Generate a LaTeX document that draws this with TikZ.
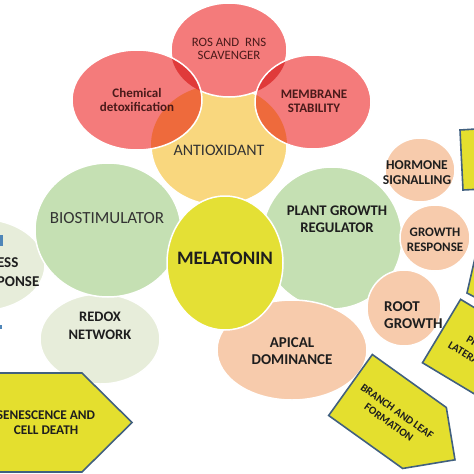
\documentclass[tikz,border=0pt]{standalone}
\usepackage{fontspec}
\setmainfont{Carlito}
\definecolor{redE}{HTML}{F47B7B}
\definecolor{redD}{HTML}{E03A3A}
\definecolor{orgL}{HTML}{EE6A3C}
\definecolor{antiY}{HTML}{F9D77E}
\definecolor{grnL}{HTML}{C5E0B3}
\definecolor{melY}{HTML}{E4E035}
\definecolor{peach}{HTML}{F7CBAC}
\definecolor{redoxC}{HTML}{E7EDDA}
\definecolor{arrY}{HTML}{E4DF2E}
\definecolor{arrB}{HTML}{41607F}
\definecolor{txtc}{HTML}{1E1E1E}
\definecolor{txtr}{HTML}{4A1A1A}
\definecolor{txtg}{HTML}{333333}
\definecolor{blueM}{HTML}{4F86B8}
\begin{document}
\begin{tikzpicture}[x=1pt,y=-1pt,
  bub/.style={draw=white, line width=1.5pt},
  tx/.style={align=center, text=txtc, inner sep=0pt, font=\bfseries},
  arrowbox/.style={fill=arrY, draw=arrB, line width=1.6pt, line join=miter}]
\useasboundingbox (0,0) rectangle (474,474);
\begin{scope}
\clip (0,0) rectangle (474,474);
% left side
\path[bub, fill=redoxC] (-20,265) ellipse [x radius=65pt, y radius=46pt];
\fill[blueM] (-2,235) rectangle (3,246);
\fill[blueM] (-2,325) rectangle (2,329);
\path[bub, fill=redoxC] (100,339) ellipse [x radius=60pt, y radius=45pt];
\path[bub, fill=grnL] (108,230) ellipse [x radius=73pt, y radius=67pt];
% antioxidant cluster
\path[bub, fill=antiY] (219,145) ellipse [x radius=68pt, y radius=60pt];
\path[bub, fill=redE] (229,50) ellipse [x radius=58pt, y radius=47pt];
\fill[redE] (137,100) ellipse [x radius=65pt, y radius=50pt];
\begin{scope}
\clip (137,100) ellipse [x radius=65pt, y radius=50pt];
\fill[orgL] (219,145) ellipse [x radius=68pt, y radius=60pt];
\fill[redD] (229,50) ellipse [x radius=58pt, y radius=47pt];
\end{scope}
\draw[white, line width=1.5pt] (137,100) ellipse [x radius=65pt, y radius=50pt];
\fill[redE] (313,102) ellipse [x radius=58pt, y radius=47pt];
\begin{scope}
\clip (313,102) ellipse [x radius=58pt, y radius=47pt];
\fill[orgL] (219,145) ellipse [x radius=68pt, y radius=60pt];
\fill[redD] (229,50) ellipse [x radius=58pt, y radius=47pt];
\end{scope}
\draw[white, line width=1.5pt] (313,102) ellipse [x radius=58pt, y radius=47pt];
% right cluster
\path[bub, fill=grnL] (332,238) ellipse [x radius=70pt, y radius=71pt];
\path[bub, fill=peach] (420,170) ellipse [x radius=35pt, y radius=32pt];
\path[bub, fill=peach] (435,238) ellipse [x radius=35pt, y radius=33pt];
\path[bub, fill=peach] (404,308) ellipse [x radius=37pt, y radius=38pt];
\path[bub, fill=peach] (292,350) ellipse [x radius=75pt, y radius=50pt];
\path[bub, fill=melY] (225,263) ellipse [x radius=58pt, y radius=67pt];
% arrows
\draw[arrowbox] (-60,373) -- (82,373) -- (132,422.5) -- (82,472) -- (-60,472) -- cycle;
\begin{scope}[shift={(387.5,411.5)}, rotate=-35.6]
\draw[arrowbox] (-45.5,-37.5) -- (45.5,-37.5) -- (83,0) -- (45.5,37.5) -- (-45.5,37.5) -- cycle;
\end{scope}
\begin{scope}[shift={(484.4,356.8)}, rotate=-31]
\draw[arrowbox] (-50,-37) -- (50,-37) -- (87,0) -- (50,37) -- (-50,37) -- cycle;
\end{scope}
\draw[arrowbox] (460,130) -- (540,125) -- (544,186) -- (463,190) -- cycle;
\draw[arrowbox] (480,236) -- (467,293) -- (482,301) -- cycle;
% texts
\node[tx, font=\fontsize{12.8}{13}\selectfont, text=txtr] (ros) at (229,48.5) {ROS AND\ \ RNS\\SCAVENGER};
\node[tx, font=\bfseries\fontsize{13}{14}\selectfont, text=txtr] (chem) at (137,100) {Chemical\\detoxification};
\node[tx, font=\bfseries\fontsize{13}{13.5}\selectfont, text=txtr] (memb) at (314,101.5) {MEMBRANE\\STABILITY};
\node[tx, font=\fontsize{16}{16}\selectfont, text=txtg] (anti) at (219,150) {ANTIOXIDANT};
\node[tx, font=\fontsize{17}{17}\selectfont, text=txtg] (bio) at (107,218) {BIOSTIMULATOR};
\node[tx, font=\bfseries\fontsize{19}{19}\selectfont] (mel) at (225,258) {MELATONIN};
\node[tx, font=\bfseries\fontsize{14.7}{16.5}\selectfont] (pgr) at (337,219) {PLANT GROWTH\\REGULATOR};
\node[tx, font=\bfseries\fontsize{13.5}{15}\selectfont] (horm) at (417,172.5) {HORMONE\\SIGNALLING};
\node[tx, font=\bfseries\fontsize{13}{15}\selectfont] (grow) at (435,239.5) {GROWTH\\RESPONSE};
\node[tx, font=\bfseries\fontsize{15}{17}\selectfont, align=left, anchor=west] (root) at (384,315.5) {ROOT\\GROWTH};
\node[tx, font=\bfseries\fontsize{15}{17}\selectfont] (apical) at (292,351.5) {APICAL\\DOMINANCE};
\node[tx, font=\bfseries\fontsize{14.5}{18}\selectfont] (redox) at (100,326) {REDOX\\NETWORK};
\node[tx, font=\bfseries\fontsize{15}{19}\selectfont, align=left, anchor=west] (stress) at (-26,272.5) {STRESS\\RESPONSE};
\node[tx, font=\bfseries\fontsize{13.3}{15}\selectfont] (sen) at (46,422.5) {SENESCENCE AND\\CELL DEATH};
\node[tx, font=\bfseries\fontsize{11}{14}\selectfont, rotate=-35.6] (branch) at (393,417) {BRANCH AND LEAF\\FORMATION};
\node[tx, font=\bfseries\fontsize{11}{14}\selectfont, rotate=-31] (prom) at (484,357) {PROMOTE\\LATERAL ROOTS};
\end{scope}
\end{tikzpicture}
\end{document}
